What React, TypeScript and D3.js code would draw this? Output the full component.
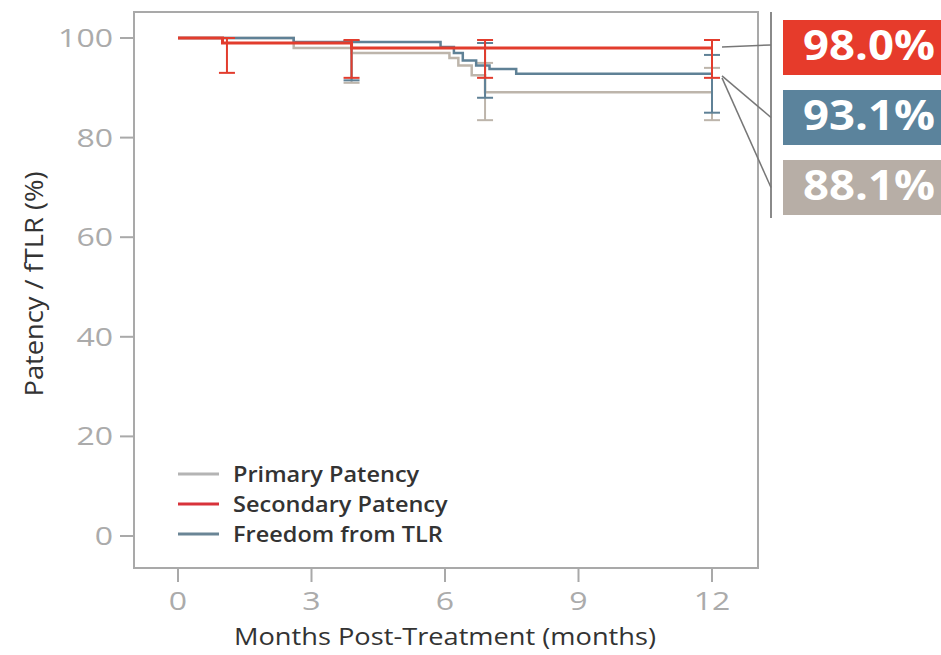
import React from "react";
import { scaleLinear, line, curveStepAfter } from "d3";

const xTicks = [0, 3, 6, 9, 12];
const yTicks = [0, 20, 40, 60, 80, 100];

// Kaplan-Meier steps: [month, percent]
const primaryMonths = [0, 2.6, 3.9, 6.1, 6.3, 6.6, 6.9, 12];
const primaryValues = [100, 98.0, 97.0, 96.0, 94.5, 92.5, 89.1, 89.1];
const secondaryMonths = [0, 1.0, 3.9, 12];
const secondaryValues = [100, 99.0, 98.0, 98.0];
const tlrMonths = [0, 2.6, 5.9, 6.2, 6.4, 6.7, 7.0, 7.6, 12];
const tlrValues = [100, 99.2, 98.2, 97.0, 95.5, 94.5, 93.8, 92.8, 92.8];

// error bars: month, low, high
const primaryBars = [[3.9, 91.0, 99.5], [6.9, 83.5, 95.0], [12, 83.5, 94.0]];
const secondaryBars = [[1.1, 93.0, 100], [3.9, 92.0, 99.6], [6.9, 92.0, 99.6], [12, 92.0, 99.6]];
const tlrBars = [[3.9, 91.5, 99.4], [6.9, 88.0, 99.0], [12, 85.0, 96.6]];

const seriesNames = ["Primary Patency", "Secondary Patency", "Freedom from TLR"];
const seriesColors = ["#bdb5ab", "#e23c2d", "#5f8196"];
const legendColors = ["#b4b4b4", "#d8323a", "#6a8596"];
const endLabels = ["98.0%", "93.1%", "88.1%"];
const boxColors = ["#e63b2b", "#5b839c", "#b7aea6"];

const FONT = "'Open Sans', sans-serif";

const App = () => {
  const frame = { left: 134, right: 758, top: 12, bottom: 568 };
  const x = scaleLinear().domain([0, 12]).range([178, 712]);
  const y = scaleLinear().domain([0, 100]).range([536, 38]);

  const toPts = (ms: number[], vs: number[]) => ms.map((m, i) => [m, vs[i]] as [number, number]);
  const stepLine = line<[number, number]>()
    .x((d) => x(d[0]))
    .y((d) => y(d[1]))
    .curve(curveStepAfter);

  const series = [
    { pts: toPts(primaryMonths, primaryValues), bars: primaryBars, color: seriesColors[0], w: 2.5 },
    { pts: toPts(tlrMonths, tlrValues), bars: tlrBars, color: seriesColors[2], w: 2.5 },
    { pts: toPts(secondaryMonths, secondaryValues), bars: secondaryBars, color: seriesColors[1], w: 3 },
  ];

  const cap = 8;
  const bracketX = 771;
  const boxX = 783;
  const boxH = 55;
  const boxTop = [20, 90, 160];
  const secEnd = secondaryValues[secondaryValues.length - 1];
  const tlrEnd = tlrValues[tlrValues.length - 1];
  const digitW = 18.3;

  return (
    <svg width={941} height={655} style={{ position: "absolute", left: 0, top: 0 }}>
      <rect width={941} height={655} fill="#fff" />
      {/* frame */}
      <rect
        x={frame.left}
        y={frame.top}
        width={frame.right - frame.left}
        height={frame.bottom - frame.top}
        fill="none"
        stroke="#a9a9a9"
        strokeWidth={2}
      />
      {/* y axis */}
      {yTicks.map((t) => (
        <g key={"y" + t}>
          <line x1={frame.left - 14} x2={frame.left} y1={y(t)} y2={y(t)} stroke="#a9a9a9" strokeWidth={2} />
          <text
            x={frame.left - 21}
            y={y(t) + 9}
            textAnchor="end"
            fontFamily={FONT}
            fontSize={25}
            fill="#ababab"
            textLength={digitW * String(t).length}
            lengthAdjust="spacingAndGlyphs"
          >
            {t}
          </text>
        </g>
      ))}
      {/* x axis */}
      {xTicks.map((t) => (
        <g key={"x" + t}>
          <line x1={x(t)} x2={x(t)} y1={frame.bottom} y2={frame.bottom + 14} stroke="#a9a9a9" strokeWidth={2} />
          <text
            x={x(t)}
            y={610}
            textAnchor="middle"
            fontFamily={FONT}
            fontSize={25}
            fill="#ababab"
            textLength={digitW * String(t).length}
            lengthAdjust="spacingAndGlyphs"
          >
            {t}
          </text>
        </g>
      ))}
      <text
        x={445}
        y={645}
        textAnchor="middle"
        fontFamily={FONT}
        fontSize={24}
        fill="#333"
        textLength={422}
        lengthAdjust="spacingAndGlyphs"
      >
        Months Post-Treatment (months)
      </text>
      <text
        transform="translate(43,284) rotate(-90)"
        textAnchor="middle"
        fontFamily={FONT}
        fontSize={25}
        fill="#333"
        textLength={225}
        lengthAdjust="spacingAndGlyphs"
      >
        Patency / fTLR (%)
      </text>

      {/* curves */}
      {series.map((s, i) => (
        <g key={"s" + i}>
          <path d={stepLine(s.pts) || ""} fill="none" stroke={s.color} strokeWidth={s.w} />
          {s.bars.map((b, j) => (
            <g key={j} stroke={s.color} strokeWidth={2}>
              <line x1={x(b[0])} x2={x(b[0])} y1={y(b[1])} y2={y(b[2])} />
              <line x1={x(b[0]) - cap} x2={x(b[0]) + cap} y1={y(b[1])} y2={y(b[1])} />
              <line x1={x(b[0]) - cap} x2={x(b[0]) + cap} y1={y(b[2])} y2={y(b[2])} />
            </g>
          ))}
        </g>
      ))}

      {/* end labels */}
      <line x1={bracketX} x2={bracketX} y1={12} y2={218} stroke="#8a8a8a" strokeWidth={2} />
      <line x1={x(12) + 10} x2={bracketX} y1={y(secEnd) - 1} y2={y(secEnd) - 3} stroke="#777" strokeWidth={1.5} />
      <line x1={x(12) + 10} x2={bracketX} y1={y(tlrEnd) + 2} y2={boxTop[1] + boxH / 2} stroke="#777" strokeWidth={1.5} />
      <line x1={x(12) + 10} x2={bracketX} y1={y(tlrEnd) + 4} y2={boxTop[2] + boxH / 2} stroke="#777" strokeWidth={1.5} />
      {endLabels.map((l, i) => (
        <g key={"b" + i}>
          <rect x={boxX} y={boxTop[i]} width={941 - boxX} height={boxH} fill={boxColors[i]} />
          <text
            x={803}
            y={boxTop[i] + 40}
            fontFamily={FONT}
            fontWeight={700}
            fontSize={42}
            fill="#fff"
            textLength={132}
            lengthAdjust="spacingAndGlyphs"
          >
            {l}
          </text>
        </g>
      ))}

      {/* legend */}
      {seriesNames.map((n, i) => (
        <g key={"l" + i} transform={`translate(178,${474 + i * 30})`}>
          <line x1={0} x2={41} y1={0} y2={0} stroke={legendColors[i]} strokeWidth={3} />
          <text
            x={55}
            y={0}
            dy="0.36em"
            fontFamily={FONT}
            fontWeight={600}
            fontSize={21}
            fill="#333"
            transform="translate(55,0) scale(1.12,1) translate(-55,0)"
          >
            {n}
          </text>
        </g>
      ))}
    </svg>
  );
};

export default App;
